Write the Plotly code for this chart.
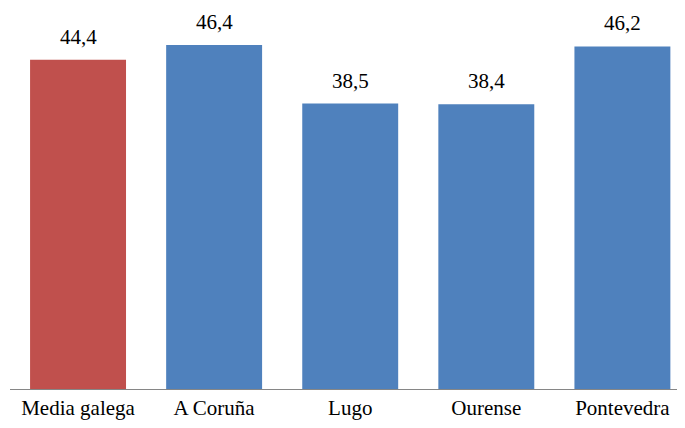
import plotly.graph_objects as go

provincias = ['Media galega', 'A Coruña', 'Lugo', 'Ourense', 'Pontevedra']
valores = [44.4, 46.4, 38.5, 38.4, 46.2]
cores = ['#C0504D', '#4F81BD', '#4F81BD', '#4F81BD', '#4F81BD']

serif = '"Times New Roman", "Liberation Serif", "DejaVu Serif", serif'

fig = go.Figure(go.Bar(
    x=provincias, y=valores, marker_color=cores, marker_line_width=0,
))

# value labels above each bar
for p, v in zip(provincias, valores):
    fig.add_annotation(x=p, y=v, text=f'{v:.1f}'.replace('.', ','),
                       showarrow=False, yanchor='bottom', yshift=9,
                       font=dict(family=serif, size=21, color='black'))

# page body has an 8px margin, so the figure is a bit smaller than the window
fig.update_layout(
    width=677, height=420,
    margin=dict(l=2, r=0, t=0, b=39),
    paper_bgcolor='white', plot_bgcolor='white',
    bargap=0.295,
    showlegend=False,
    font=dict(family=serif, size=21, color='black'),
)
fig.update_xaxes(range=[-0.5, 4.46], showline=True, linecolor='#868686', linewidth=1,
                 ticks='', tickfont=dict(family=serif, size=21))
fig.update_yaxes(range=[0, 51.39], visible=False, showgrid=False)

fig.write_html("out.html")
